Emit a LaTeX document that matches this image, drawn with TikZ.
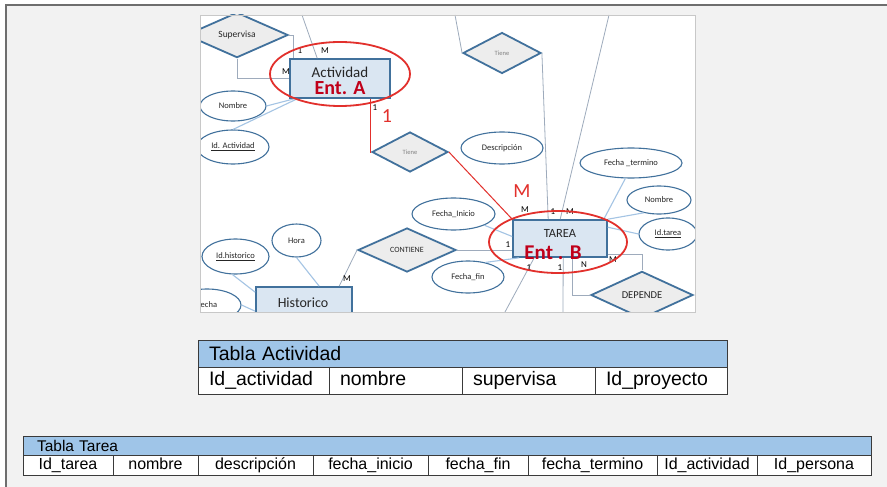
\documentclass[tikz,border=0pt]{standalone}
\usepackage{fontspec}
\setmainfont{Carlito}
\newfontfamily\tabfont{Liberation Sans}
\usetikzlibrary{shapes.geometric,calc}
\newcommand\setfs[1]{\fontsize{#1pt}{#1pt}\selectfont}
\definecolor{pagebg}{HTML}{F2F2F2}
\definecolor{pageline}{HTML}{6E6E6E}
\definecolor{entb}{HTML}{41719C}
\definecolor{entf}{HTML}{DAE6F2}
\definecolor{relf}{HTML}{EDEDED}
\definecolor{lnkc}{HTML}{9EABBC}
\definecolor{attrc}{HTML}{A4C4E4}
\definecolor{redc}{HTML}{E2302C}
\definecolor{entred}{HTML}{C0001A}
\definecolor{txt}{HTML}{262626}
\definecolor{hdrc}{HTML}{9FC5E8}
\definecolor{tblc}{HTML}{3A3A3A}
\definecolor{imgline}{HTML}{C8C8C8}
\begin{document}
\begin{tikzpicture}[x=1pt,y=-1pt,
  ent/.style={draw=entb,line width=1.6pt,fill=entf,inner sep=0pt},
  rel/.style={diamond,draw=entb,line width=1.8pt,fill=relf,inner sep=0pt,text=txt},
  attr/.style={ellipse,draw=entb,line width=1.1pt,fill=white,inner sep=0pt,text=txt,font=\setfs{8.5}},
  lnk/.style={lnkc,line width=0.8pt},
  alnk/.style={attrc,line width=1.1pt},
  rlnk/.style={redc,line width=1pt},
  card/.style={inner sep=0pt,text=black,font=\setfs{9}},
  bigred/.style={inner sep=0pt,text=redc,font=\setfs{20}},
  entlab/.style={inner sep=0pt,text=entred,font=\bfseries\setfs{20}},
  ring/.style={redc,line width=1.8pt},
  tcell/.style={draw=tblc,line width=0.8pt,outer sep=0pt,anchor=north west,text=black},
  hcell/.style={tcell,fill=hdrc,inner ysep=0pt,align=left},
  lcell/.style={tcell,fill=white,inner ysep=0pt,align=left,text height=14.5pt,text depth=4.5pt},
  ccell/.style={tcell,fill=white,inner sep=0pt,text height=11.5pt,text depth=3.5pt}
]
\useasboundingbox (0,0) rectangle (887,487);
\fill[white] (0,0) rectangle (887,487);
% page panel
\fill[pagebg] (6,5) rectangle (887,487);
\draw[pageline,line width=1.5pt] (6,487) -- (6,5) -- (887,5);

% ---------------- ER diagram ----------------
\fill[white] (200,15) rectangle (695,312);
\begin{scope}
\clip (200,15) rectangle (695,312);

% entities
\node[ent,minimum width=100pt,minimum height=39pt] (act) at (340,78.5) {};
\node[ent,minimum width=94pt,minimum height=37pt] (tarea) at (560,238.5) {};
\node[ent,minimum width=96pt,minimum height=42pt] (hist) at (304,308) {};

% relationships
\node[rel,minimum width=102pt,minimum height=40pt,font=\setfs{9.5}] (sup) at (237,35) {Supervisa};
\node[rel,minimum width=76pt,minimum height=40pt,font=\setfs{6.5},text=gray] (tiene1) at (410,152) {Tiene};
\node[rel,minimum width=78pt,minimum height=41pt,font=\setfs{6.5},text=gray] (tiene2) at (502,53) {Tiene};
\node[rel,minimum width=98pt,minimum height=44pt,font=\setfs{8}] (contiene) at (407,250) {CONTIENE};
\node[rel,minimum width=102pt,minimum height=44pt,font=\setfs{10.5}] (depende) at (642,295) {DEPENDE};

% attributes
\node[attr,minimum width=66pt,minimum height=30pt] (nombreA) at (233,106) {Nombre};
\node[attr,minimum width=72pt,minimum height=34pt] (idact) at (233,147) {\underline{Id. Actividad}};
\node[attr,minimum width=82pt,minimum height=32pt] (desc) at (502,148) {Descripción};
\node[attr,minimum width=102pt,minimum height=30pt] (ftermino) at (631,163) {Fecha \_termino};
\node[attr,minimum width=64pt,minimum height=28pt] (nombreT) at (659,200) {Nombre};
\node[attr,minimum width=58pt,minimum height=32pt] (idtarea) at (668,234) {\underline{Id.tarea}};
\node[attr,minimum width=83pt,minimum height=32pt] (finicio) at (453.5,214) {Fecha\_Inicio};
\node[attr,minimum width=72pt,minimum height=32pt] (ffin) at (468,277) {Fecha\_fin};
\node[attr,minimum width=49pt,minimum height=33pt] (hora) at (296.5,240.5) {Hora};
\node[attr,minimum width=67pt,minimum height=35pt] (idhist) at (235.5,256.5) {\underline{Id.historico}};
\node[attr,minimum width=68pt,minimum height=32pt] (fecha) at (207,305) {Fecha};

% free ends of links leaving the frame
\coordinate (t1) at (302,15);
\coordinate (t2) at (455,15);
\coordinate (t3) at (609,15);
\coordinate (b1) at (505,312);
\coordinate (b2) at (563,312);

% links around Actividad
\draw[lnk] (sup.east) -| ($(act.north west)+(4,0)$);
\draw[lnk] (sup.south) |- (act.west);
\draw[lnk] (t1) -- ($(act.north west)+(28,0)$);
\draw[alnk] (nombreA.east) -- ($(act.south west)+(5,0)$);
\draw[alnk] (idact.north) -- ($(act.south west)+(8,0)$);
\draw[rlnk] ($(act.south west)+(81,0)$) |- (tiene1.west);
\draw[rlnk] (tiene1.east) -- (tarea.north west);

% links around TAREA
\draw[lnk] (t2) -- (tiene2.west);
\draw[lnk] (tiene2.east) -- ($(tarea.north west)+(36,0)$);
\draw[lnk] (t3) -- ($(tarea.north west)+(48,0)$);
\draw[alnk] (ftermino.250) -- ($(tarea.north east)+(-4,0)$);
\draw[alnk] (nombreT.220) -- (tarea.north east);
\draw[alnk] (idtarea.west) -- ($(tarea.north east)+(0,8)$);
\draw[alnk] (finicio.-20) -- ($(tarea.west)+(0,-2)$);
\draw[lnk] (contiene.east) -- (contiene.east -| tarea.west);
\draw[alnk] (ffin.40) -- ($(tarea.south west)+(7,0)$);
\draw[lnk] ($(tarea.south west)+(22,0)$) -- (b1);
\draw[lnk] ($(tarea.south west)+(51,0)$) -- (b2);
\draw[lnk] ($(tarea.south west)+(60,0)$) |- (depende.west);
\draw[lnk] ($(tarea.south east)+(0,-3)$) -| (depende.north);

% links around Historico
\draw[lnk] (contiene.west) -- ($(hist.north west)+(84,0)$);
\draw[alnk] (hora.south) -- ($(hist.north west)+(64,0)$);
\draw[alnk] (idhist.260) -- ($(hist.north west)+(0,6)$);
\draw[alnk] (fecha.east) -- ($(hist.north west)+(0,25)$);

% entity names
\node[inner sep=0pt,text=txt,font=\setfs{15}] (actname) at (340,72) {Actividad};
\node[inner sep=0pt,text=txt,font=\setfs{12.5}] (tareaname) at (560,233) {TAREA};
\node[inner sep=0pt,text=txt,font=\setfs{14}] (histname) at (303,303) {Historico};

% cardinalities
\node[card] (c1) at (300,51) {1};
\node[card] (c2) at (325,51) {M};
\node[card] (c3) at (286,72) {M};
\node[card] (c4) at (375,108) {1};
\node[card] (c5) at (525,210) {M};
\node[card] (c6) at (553,212) {1};
\node[card] (c7) at (570,212) {M};
\node[card] (c8) at (508,245) {1};
\node[card] (c9) at (529,268) {1};
\node[card] (c10) at (560,268) {1};
\node[card] (c11) at (584,265) {N};
\node[card] (c12) at (613,260) {M};
\node[card] (c13) at (347,279) {M};

% highlighted entities
\draw[ring] (340,74) ellipse [x radius=70pt,y radius=32pt];
\draw[ring] (558,242) ellipse [x radius=69pt,y radius=31pt];
\node[entlab] (enta) at (340,88) {Ent. A};
\node[entlab,font=\bfseries\setfs{21}] (entb) at (553,253) {Ent . B};
\node[bigred] (one) at (387,116) {1};
\node[bigred] (many) at (522,191) {M};
\end{scope}
\draw[imgline,line width=0.6pt] (200,15) rectangle (695,312);

% ---------------- Tabla Actividad ----------------
\begin{scope}[every node/.append style={font=\tabfont\setfs{19.5}}]
\node[hcell,minimum height=27pt,text width=507pt,inner xsep=11pt] (ahead) at (198,340) {Tabla Actividad};
\node[lcell,minimum height=27pt,text width=109pt,inner xsep=11pt] (a1) at (198,367) {Id\_actividad};
\node[lcell,minimum height=27pt,text width=111pt,inner xsep=11pt] (a2) at (a1.north east) {nombre};
\node[lcell,minimum height=27pt,text width=111pt,inner xsep=11pt] (a3) at (a2.north east) {supervisa};
\node[lcell,minimum height=27pt,text width=110pt,inner xsep=11pt] (a4) at (a3.north east) {Id\_proyecto};
\end{scope}

% ---------------- Tabla Tarea ----------------
\begin{scope}[every node/.append style={font=\tabfont\setfs{16}}]
\node[hcell,minimum height=19pt,text width=820pt,inner xsep=14pt,font=\tabfont\setfs{15.5}] (thead) at (23,436) {Tabla Tarea};
\node[ccell,minimum height=20pt,minimum width=90pt] (r1) at (23,455) {Id\_tarea};
\node[ccell,minimum height=20pt,minimum width=85pt] (r2) at (r1.north east) {nombre};
\node[ccell,minimum height=20pt,minimum width=115pt] (r3) at (r2.north east) {descripción};
\node[ccell,minimum height=20pt,minimum width=115pt] (r4) at (r3.north east) {fecha\_inicio};
\node[ccell,minimum height=20pt,minimum width=100pt] (r5) at (r4.north east) {fecha\_fin};
\node[ccell,minimum height=20pt,minimum width=129pt] (r6) at (r5.north east) {fecha\_termino};
\node[ccell,minimum height=20pt,minimum width=100pt] (r7) at (r6.north east) {Id\_actividad};
\node[ccell,minimum height=20pt,minimum width=114pt] (r8) at (r7.north east) {Id\_persona};
\end{scope}
\end{tikzpicture}
\end{document}
